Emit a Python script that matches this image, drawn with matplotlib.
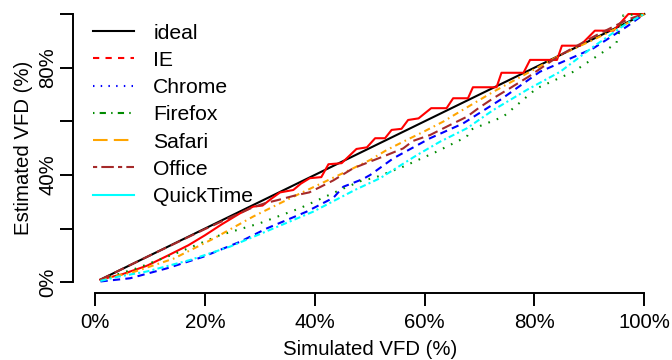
import numpy as np
import matplotlib
matplotlib.use('Agg')
import matplotlib.pyplot as plt
from matplotlib.lines import Line2D

plt.rcParams['font.family'] = ['Liberation Sans', 'DejaVu Sans']

# estimated vs simulated VFD (%), one curve per application
ideal_x = [1, 100]
ideal_y = [1, 100]

ie_x = [1, 5, 9.5, 13.5, 17, 20, 23, 26.4, 28.8, 30.5, 32, 33.7, 36.1, 37.5, 39.1, 41.2, 42.5,
        44.9, 47.6, 49.5, 51, 52.8, 54, 55.8, 57, 58.9, 61.2, 64, 65.2, 67.9, 68.8, 73.1, 74,
        78, 79.2, 84.1, 85, 88.3, 91, 94.4, 97.1, 99.8]
ie_y = [1, 3, 6.2, 10.2, 13.8, 17.5, 21.5, 25.7, 28.2, 28.6, 31, 33.5, 34.4, 36.8, 38.8, 39.2, 44,
        44.4, 49.7, 50.3, 53.7, 53.7, 56.8, 57.2, 60.5, 61.1, 64.9, 64.9, 68.6, 68.6, 72.7, 72.7, 78.1,
        78.1, 82.9, 82.9, 88.2, 88.2, 93.8, 93.8, 100, 100]

chrome_x = [1, 6.4, 13.1, 19.7, 26.4, 31.3, 38.5, 43.4, 45.2, 48.8, 50.1, 54.3, 61, 67, 73.7,
            81, 85.5, 90.7, 96.8, 100]
chrome_y = [0.3, 1.5, 5.2, 9.5, 15.1, 20.1, 26.3, 31.5, 35.6, 38.5, 40, 46.2, 53.7, 59.2, 67.9,
            78.5, 82.5, 87.2, 95.3, 100]

firefox_x = [1, 7.6, 15.5, 22.8, 30, 37.3, 44.6, 48.8, 50.7, 56.1, 62.2, 67.7, 68.3, 74.3, 80.4,
             87.1, 94.9, 96.2, 100]
firefox_y = [1, 5.2, 11.4, 17.6, 22, 27.6, 34.4, 38.1, 38.8, 43.1, 48.7, 54.3, 56.8, 61.7, 72.3,
             78.5, 89.1, 99.6, 100]

safari_x = [1, 7, 14.3, 21.5, 28.8, 36.1, 43.4, 46.4, 50.1, 53.1, 56.7, 59.8, 63.4, 66.4, 72.5,
            79.2, 84.7, 90.7, 96.8, 100]
safari_y = [1, 3.8, 8.8, 16.2, 24.5, 31.9, 39, 41.9, 45.6, 49.3, 53, 56.1, 59.9, 63.6, 71,
            78.5, 84.7, 90.4, 96.5, 100]

office_x = [1, 10, 20, 25, 28.8, 31, 33, 36.7, 39, 41, 43.4, 47, 50.1, 53.1, 56.1, 57.9, 61,
            64.6, 67.7, 69.8, 72.5, 75.5, 78.9, 81.6, 84.7, 87.4, 90.7, 93.8, 96.8, 99.8]
office_y = [1, 10, 19.8, 24.5, 28, 29.5, 30.5, 32.5, 33.5, 35.5, 38, 42.5, 45, 47.4, 49.9, 52.7,
            54.9, 58.6, 61.7, 64.9, 68.6, 72.3, 76.6, 80.4, 84.7, 87.8, 91.5, 94.7, 97.8, 100]

quicktime_x = [1, 4, 9.4, 17.3, 24.6, 32.5, 39.7, 47.3, 51.9, 58.6, 62.8, 67.7, 72.5, 78.6,
               84.7, 90.7, 96.8, 100]
quicktime_y = [0.5, 2, 4, 8.3, 13.3, 20.1, 26.3, 34.4, 38.8, 47.4, 52.4, 57.4, 64.2, 71.7,
               78.5, 87.8, 96.5, 100]

labels = ['ideal', 'IE', 'Chrome', 'Firefox', 'Safari', 'Office', 'QuickTime']
# black, red, blue, green4, orange, brown, cyan
colors = ['#000000', '#FF0000', '#0000FF', '#008B00', '#FFA500', '#A52A2A', '#00FFFF']

fig = plt.figure(figsize=(6.72, 3.6), dpi=100)
fig.patch.set_facecolor('white')
ax1 = fig.add_axes([73/672., 1-293/360., (666.3-73)/672., (293-3.3)/360.])

lw = 1.5
ax1.plot(ideal_x, ideal_y, color=colors[0], lw=lw)
ax1.plot(ie_x, ie_y, color=colors[1], lw=lw)
ax1.plot(chrome_x, chrome_y, color=colors[2], lw=lw, dashes=(3.5, 2.5))
ax1.plot(firefox_x, firefox_y, color=colors[3], lw=lw, dashes=(0.8, 3.5))
ax1.plot(safari_x, safari_y, color=colors[4], lw=lw, dashes=(3, 2, 0.8, 2))
ax1.plot(office_x, office_y, color=colors[5], lw=lw, dashes=(5, 2.5))
ax1.plot(quicktime_x, quicktime_y, color=colors[6], lw=lw, dashes=(3, 1.5, 1, 1.5))

# legend keys use the plain R line types
legend_dashes = [None, (3, 3), (0.7, 3), (0.7, 2.5, 3, 2.5), (7, 3), (2, 2, 6, 2), None]
handles = []
for c, d in zip(colors, legend_dashes):
    h = Line2D([], [], color=c, lw=lw)
    if d is not None:
        h.set_dashes(d)
    handles.append(h)
ax1.legend(handles, labels, loc='upper left', bbox_to_anchor=(0.034, 0.93), frameon=False,
           fontsize=15.2, handlelength=1.95, handletextpad=0.9, labelspacing=0.39,
           borderaxespad=0, borderpad=0)

ax1.set_xlim(-4, 104)
ax1.set_ylim(-4, 104)
for s in ['top', 'right']:
    ax1.spines[s].set_visible(False)
for s in ['left', 'bottom']:
    ax1.spines[s].set_bounds(0, 100)
    ax1.spines[s].set_linewidth(1.4)

ticks = [0, 20, 40, 60, 80, 100]
ax1.set_xticks(ticks)
ax1.set_xticklabels(['%d%%' % t for t in ticks], fontsize=14.7)
ax1.set_yticks(ticks)
ax1.set_yticklabels(['0%', '', '40%', '', '80%', ''], fontsize=14.7, rotation=90, va='center')
ax1.tick_params(direction='out', length=9.4, width=1.4)
ax1.tick_params(axis='x', pad=5)
ax1.tick_params(axis='y', pad=2)

ax1.set_xlabel('Simulated VFD (%)', fontsize=14.7, labelpad=6)
ax1.set_ylabel('Estimated VFD (%)', fontsize=14.7, labelpad=4)

plt.savefig('out.png', dpi=100)
